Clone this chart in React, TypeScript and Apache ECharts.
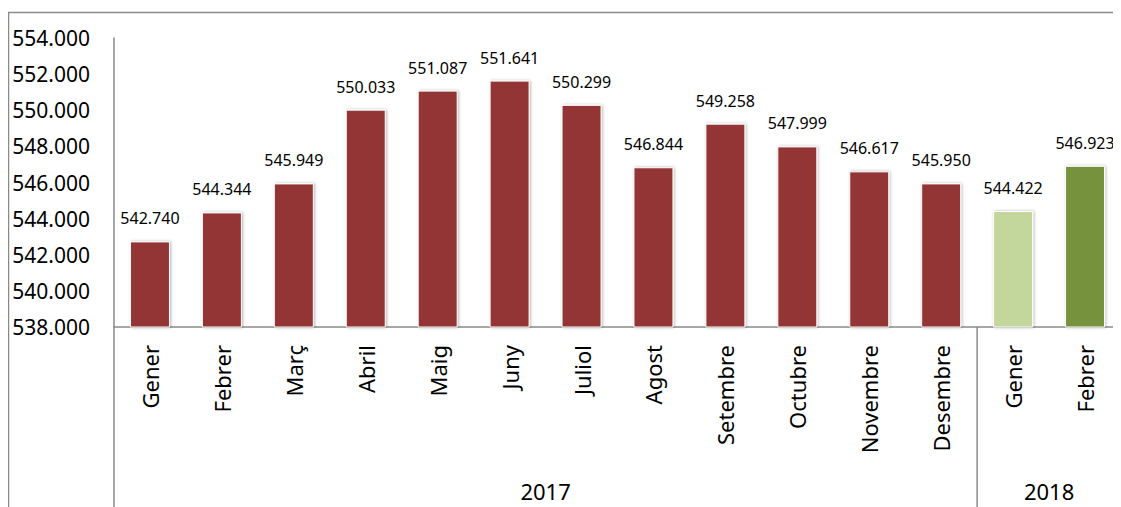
import React, { useEffect, useRef } from "react";
import * as echarts from "echarts";

const months = [
  "Gener", "Febrer", "Març", "Abril", "Maig", "Juny", "Juliol", "Agost",
  "Setembre", "Octubre", "Novembre", "Desembre", "Gener", "Febrer",
];
const values = [
  542740, 544344, 545949, 550033, 551087, 551641, 550299, 546844,
  549258, 547999, 546617, 545950, 544422, 546923,
];
const years = ["2017", "2018"];
const yearSpans = [12, 2];

const yMin = 538000;
const yMax = 554000;
const yStep = 2000;

const RED = "#943634";
const LIGHT_GREEN = "#c3d69b";
const GREEN = "#76923c";
const AXIS_GREY = "#8a8a8a";
const FONT = "Noto Sans";

function fmt(v: number): string {
  const th = Math.floor(v / 1000);
  const rest = Math.round(v - th * 1000);
  return th + "." + String(rest).padStart(3, "0");
}

function barColor(i: number): string {
  if (i < yearSpans[0]) return RED;
  if (i === months.length - 1) return GREEN;
  return LIGHT_GREEN;
}

export default function App() {
  const ref = useRef<HTMLDivElement>(null);

  useEffect(() => {
    if (!ref.current) return;
    const chart = echarts.init(ref.current, null, { renderer: "svg" });
    chart.setOption({
      animation: false,
      grid: { left: 106, right: -1, top: 30, bottom: 180, containLabel: false },
      xAxis: {
        type: "category",
        data: months,
        axisLine: { show: true, lineStyle: { color: AXIS_GREY, width: 1.5 } },
        axisTick: { show: false },
        axisLabel: {
          rotate: 90,
          interval: 0,
          margin: 18,
          color: "#000",
          fontSize: 22,
          fontFamily: FONT,
        },
        splitLine: { show: false },
      },
      yAxis: {
        type: "value",
        min: yMin,
        max: yMax,
        interval: yStep,
        axisLine: { show: true, lineStyle: { color: AXIS_GREY, width: 1.5 } },
        axisTick: { show: false },
        splitLine: { show: false },
        axisLabel: {
          color: "#000",
          fontSize: 21,
          fontFamily: FONT,
          margin: 24,
          formatter: (v: number) => fmt(v),
        },
      },
      series: [
        {
          type: "bar",
          data: values.map((v, i) => ({ value: v, itemStyle: { color: barColor(i) } })),
          barWidth: 40,
          itemStyle: {
            borderColor: "#ffffff",
            borderWidth: 1,
            shadowColor: "rgba(0,0,0,0.3)",
            shadowBlur: 3,
            shadowOffsetX: 1,
            shadowOffsetY: 0,
          },
          label: {
            show: true,
            position: "top",
            distance: 15,
            color: "#000",
            fontSize: 16,
            fontFamily: FONT,
            formatter: (p: any) => fmt(p.value),
          },
        },
      ],
    });

    const c0 = chart.convertToPixel({ xAxisIndex: 0 }, 0) as number;
    const c1 = chart.convertToPixel({ xAxisIndex: 0 }, 1) as number;
    const half = (c1 - c0) / 2;
    const yAxisBottom = chart.convertToPixel({ yAxisIndex: 0 }, yMin) as number;
    const H = ref.current.clientHeight;

    const graphics: any[] = [
      {
        type: "rect",
        shape: { x: 0.5, y: 4.5, width: 1300, height: 700 },
        style: { fill: "none", stroke: AXIS_GREY, lineWidth: 1.5 },
        silent: true,
      },
    ];
    let start = 0;
    years.forEach((yr, k) => {
      const left = c0 + start * 2 * half - half;
      const right = left + yearSpans[k] * 2 * half;
      graphics.push({
        type: "line",
        shape: { x1: left, y1: yAxisBottom, x2: left, y2: H + 10 },
        style: { stroke: AXIS_GREY, lineWidth: 1.5 },
        silent: true,
      });
      graphics.push({
        type: "text",
        x: (left + right) / 2,
        y: H - 16,
        style: {
          text: yr,
          fill: "#000",
          font: `22px "${FONT}"`,
          textAlign: "center",
          textVerticalAlign: "middle",
        },
        silent: true,
      });
      start += yearSpans[k];
    });
    chart.setOption({ graphic: graphics });

    return () => chart.dispose();
  }, []);

  return <div ref={ref} style={{ width: 1113, height: 499 }} />;
}
